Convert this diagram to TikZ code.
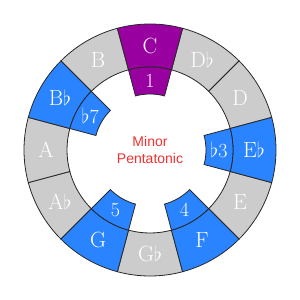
\documentclass[tikz,border=0pt]{standalone}
\usepackage{fontspec}
\newfontfamily\ringsans{Liberation Sans}
\definecolor{ringgray}{RGB}{204, 204, 204}
\definecolor{ringblue}{RGB}{42, 132, 255}
\definecolor{ringpurple}{RGB}{153, 0, 160}
\definecolor{ringline}{RGB}{40, 40, 40}
\definecolor{ringred}{RGB}{242, 48, 48}
\tikzset{
  graycell/.style = {
    draw=ringline, 
    fill=ringgray, 
    line width=0.8pt
  },
  scalecell/.style = {
    draw=ringline, 
    fill=ringblue, 
    line width=0.8pt
  },
  rootcell/.style = {
    draw=ringline, 
    fill=ringpurple, 
    line width=0.8pt
  },
  notelabel/.style = {
    text=white, 
    font=\fontsize{22}{24}\selectfont
  },
  degreelabel/.style = {
    text=white, 
    font=\fontsize{20}{22}\selectfont
  },
  titlelabel/.style = {
    text=ringred, 
    font=\ringsans\fontsize{14}{17}\selectfont, 
    align=center
  }
}

\begin{document}
\begin{tikzpicture}[x=1pt, y=1pt]
  \useasboundingbox (-150,-150) rectangle (150,150);

  % Gray notes
  \foreach \ang/\note in {120/B, 60/D$\flat$, 30/D, -30/E, -90/G$\flat$, -150/A$\flat$, 180/A} {
    \draw[graycell] ({\ang-15}:126) arc[start angle=\ang-15, end angle=\ang+15, radius=126]
      -- ({\ang+15}:83) arc[start angle=\ang+15, end angle=\ang-15, radius=83] -- cycle;
    \node[notelabel] (n\ang) at (\ang:104) {\note};
  }

  % Scale notes with their degrees
  \foreach \ang/\note/\deg in {0/E$\flat$/$\flat$3, -60/F/4, -120/G/5, 150/B$\flat$/$\flat$7} {
    \draw[scalecell] ({\ang-15}:126) arc[start angle=\ang-15, end angle=\ang+15, radius=126]
      -- ({\ang+15}:83) arc[start angle=\ang+15, end angle=\ang-15, radius=83] -- cycle;
    \draw[scalecell] ({\ang-15}:83) arc[start angle=\ang-15, end angle=\ang+15, radius=83]
      -- ({\ang+15}:56) arc[start angle=\ang+15, end angle=\ang-15, radius=56] -- cycle;
    \node[notelabel] (n\ang) at (\ang:104) {\note};
    \node[degreelabel] (d\ang) at (\ang:69) {\deg};
  }

  % Root
  \draw[rootcell] (75:126) arc[start angle=75, end angle=105, radius=126]
    -- (105:83) arc[start angle=105, end angle=75, radius=83] -- cycle;
  \draw[rootcell] (75:83) arc[start angle=75, end angle=105, radius=83]
    -- (105:56) arc[start angle=105, end angle=75, radius=56] -- cycle;
  \node[notelabel] (root) at (90:104) {C};
  \node[degreelabel] (one) at (90:69) {1};

  % Title
  \node[titlelabel] (title) at (0,0) {Minor\\Pentatonic};
\end{tikzpicture}
\end{document}
